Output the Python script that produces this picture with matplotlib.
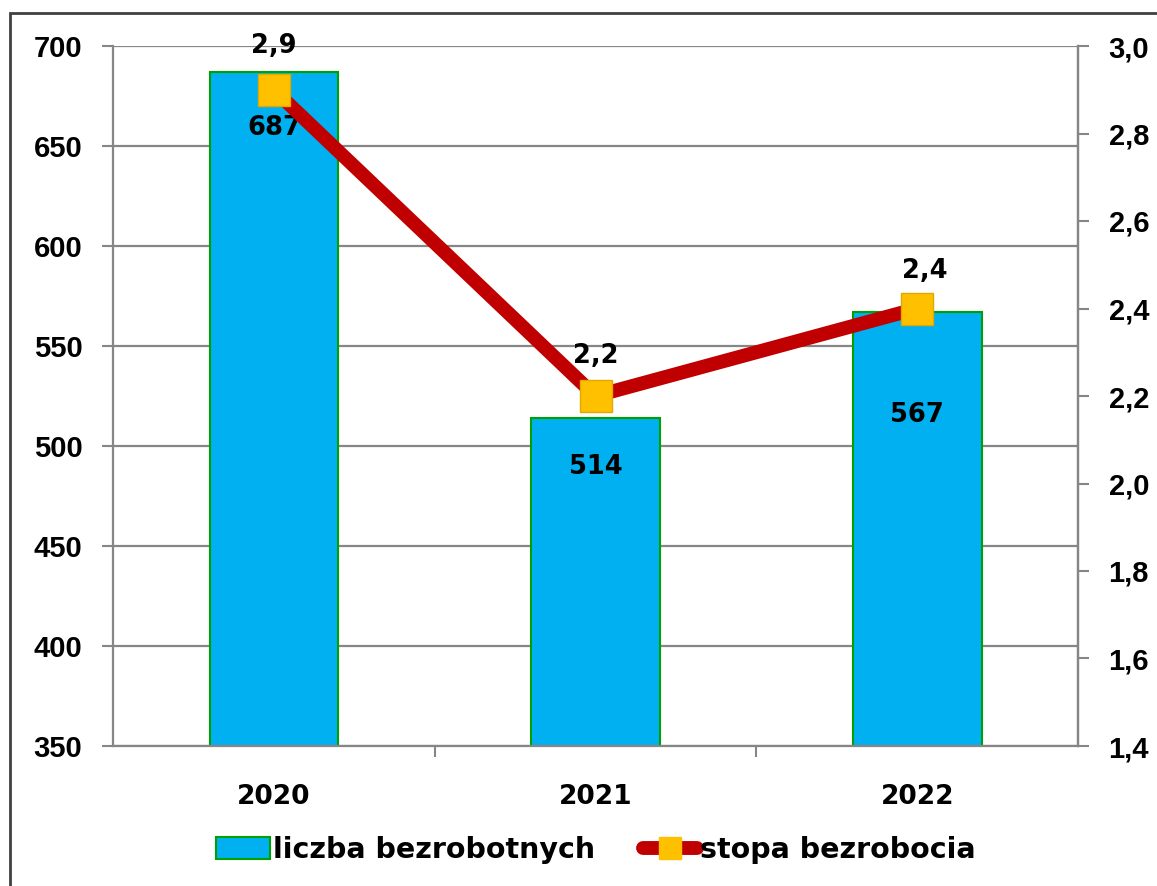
import matplotlib.pyplot as plt
import matplotlib.patches as mpatches
from matplotlib.lines import Line2D
from matplotlib.ticker import FuncFormatter

# data
years = ['2020', '2021', '2022']
liczba = [687, 514, 567]
stopa = [2.9, 2.2, 2.4]

left_ticks = [350, 400, 450, 500, 550, 600, 650, 700]
right_ticks = [1.4, 1.6, 1.8, 2.0, 2.2, 2.4, 2.6, 2.8, 3.0]

# label offsets in pixels (x, y) relative to bar top / marker
bar_lbl_off = [-56, -49, -103]
rate_lbl_off = [(0, 44), (0, 40), (8, 38)]

BLUE = '#00B0F0'
GREEN = '#00A000'
RED = '#C00000'
GOLD = '#FFC000'
GRID = '#868686'

tick_font = 'Liberation Sans'
lbl_font = 'DejaVu Sans'

fig = plt.figure(figsize=(11.57, 8.86), dpi=100)
W, H = 1157, 886
ax = fig.add_axes([113 / W, 1 - 746 / H, (1078 - 113) / W, (746 - 46) / H])

x = list(range(len(years)))

# figure border
fig.patches.append(mpatches.Rectangle((10 / W, -0.1), 1.2, 1 - 13 / H + 0.1,
                                      transform=fig.transFigure, fill=False,
                                      edgecolor='#404040', lw=2, zorder=0))

ax.set_axisbelow(True)
ax.bar(x, liczba, width=0.4, color=BLUE, edgecolor=GREEN, linewidth=1.5,
       zorder=2)
ax.set_ylim(350, 700)
ax.set_xlim(-0.5, 2.5)
ax.set_yticks(left_ticks)
ax.yaxis.grid(True, color=GRID, lw=1.6)
ax.set_xticks(x)
ax.set_xticklabels(years)
ax.set_xticks([0.5, 1.5], minor=True)
ax.tick_params(axis='x', which='major', length=0, pad=27)
ax.tick_params(axis='x', which='minor', length=8, width=1.5, color=GRID)
ax.tick_params(axis='y', length=8, width=1.5, color=GRID, pad=14)
for lab in ax.get_xticklabels():
    lab.set_fontfamily(lbl_font)
    lab.set_fontweight('bold')
    lab.set_fontsize(19)
for lab in ax.get_yticklabels():
    lab.set_fontfamily(tick_font)
    lab.set_fontweight('bold')
    lab.set_fontsize(21)

ax.spines['top'].set_visible(False)
for s in ['left', 'right', 'bottom']:
    ax.spines[s].set_color(GRID)
    ax.spines[s].set_linewidth(1.6)

ax2 = ax.twinx()
ax2.set_ylim(1.4, 3.0)
ax2.set_yticks(right_ticks)
ax2.yaxis.set_major_formatter(FuncFormatter(lambda v, p: f'{v:.1f}'.replace('.', ',')))
ax2.tick_params(axis='y', length=8, width=1.5, color=GRID, pad=14)
for lab in ax2.get_yticklabels():
    lab.set_fontfamily(tick_font)
    lab.set_fontweight('bold')
    lab.set_fontsize(21)
for s in ['top', 'left', 'bottom']:
    ax2.spines[s].set_visible(False)
ax2.spines['right'].set_color(GRID)
ax2.spines['right'].set_linewidth(1.6)

ax2.plot(x, stopa, color=RED, lw=10, marker='s', markersize=23,
         markerfacecolor=GOLD, markeredgecolor='#E0A800', markeredgewidth=1,
         zorder=3)

px = 72 / fig.dpi
for i, v in enumerate(liczba):
    ax.annotate(str(v), (x[i], v), xytext=(0, bar_lbl_off[i] * px),
                textcoords='offset points', ha='center', va='center',
                fontsize=18.5, fontweight='bold', fontfamily=lbl_font, zorder=5)
for i, v in enumerate(stopa):
    dx, dy = rate_lbl_off[i]
    ax2.annotate(f'{v:.1f}'.replace('.', ','), (x[i], v),
                 xytext=(dx * px, dy * px), textcoords='offset points',
                 ha='center', va='center', fontsize=18.5, fontweight='bold',
                 fontfamily=lbl_font, zorder=5)

h1 = mpatches.Patch(facecolor=BLUE, edgecolor=GREEN, linewidth=1.5)
h2 = Line2D([], [], color=RED, lw=10, marker='s', markersize=16,
            markerfacecolor=GOLD, markeredgecolor=GOLD, solid_capstyle='round')
fig.legend([h1, h2], ['liczba bezrobotnych', 'stopa bezrobocia'],
           loc='center', bbox_to_anchor=(0.515, 1 - 850 / H), ncol=2,
           frameon=False, handlelength=1.9, handleheight=0.8,
           handletextpad=0.1, columnspacing=1.7,
           prop={'family': lbl_font, 'weight': 'bold', 'size': 20.5})

fig.savefig('out.png', dpi=100)
